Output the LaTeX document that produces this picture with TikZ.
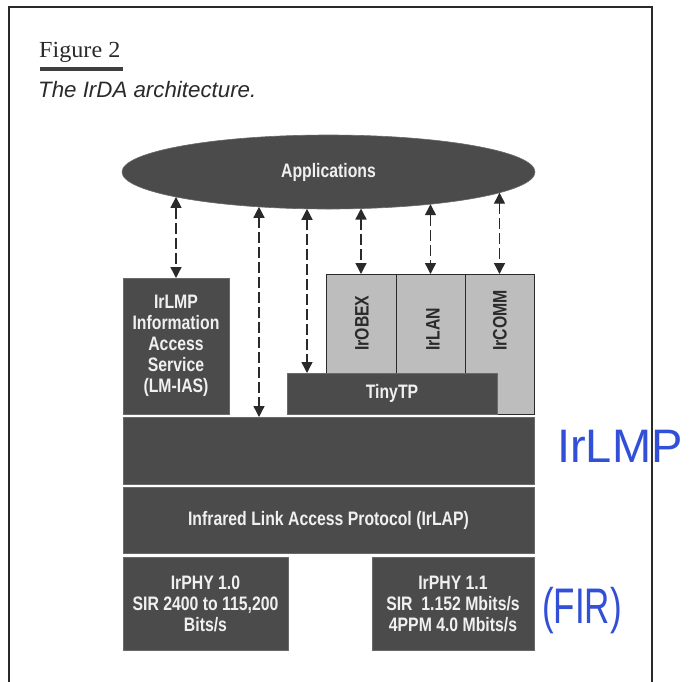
\documentclass[tikz,border=0pt]{standalone}
\usepackage{fontspec}
\setmainfont{Liberation Serif}
\newfontfamily\boxfont[FakeStretch=0.81]{Liberation Sans}
\newfontfamily\capfont{Liberation Sans}
\newfontfamily\figfont[FakeStretch=1.05]{Liberation Serif}
\newfontfamily\handfont{Liberation Sans}
\newfontfamily\handnarrow[FakeStretch=0.7]{Liberation Sans}
\usetikzlibrary{shapes.geometric,arrows.meta}
\definecolor{darkbox}{HTML}{4B4B4B}
\definecolor{darkedge}{HTML}{6A6A6A}
\definecolor{lightbox}{HTML}{BDBDBD}
\definecolor{boxtext}{HTML}{F0F0F0}
\definecolor{ink}{HTML}{2A2A2A}
\definecolor{handblue}{RGB}{50,80,215}
\tikzset{
  layer/.style={draw=darkedge, line width=0.6pt, fill=darkbox, text=boxtext,
    inner sep=0pt, outer sep=0pt, anchor=north west, align=center,
    font=\boxfont\bfseries\fontsize{19.5}{21}\selectfont},
  lightlayer/.style={draw=ink, line width=0.9pt, fill=lightbox,
    inner sep=0pt, outer sep=0pt, anchor=north west},
  vlabel/.style={rotate=90, anchor=west, inner sep=0pt, text=ink,
    font=\boxfont\bfseries\fontsize{19.5}{21}\selectfont},
  arr/.style={draw=ink, line width=1.4pt, dash pattern=on 11pt off 4pt,
    {Triangle[length=11pt,width=11pt]}-{Triangle[length=11pt,width=11pt]}},
  frameline/.style={draw=ink, line width=1.5pt},
  hand/.style={text=handblue, inner sep=0pt}
}
\begin{document}
\begin{tikzpicture}[x=1pt,y=-1pt]
\useasboundingbox (0,0) rectangle (699,681);
\fill[white] (0,0) rectangle (699,681);
% frame
\draw[frameline] (9,695) -- (9,7) -- (652,7) -- (652,695);
% title
\node[anchor=base west, inner sep=0pt, font=\figfont\fontsize{23}{26}\selectfont, text=ink] (fig) at (39,57) {Figure 2};
\draw[draw=ink!90, line width=4.5pt] (40,69) -- (123,69);
\node[anchor=base west, inner sep=0pt, font=\capfont\itshape\fontsize{22.3}{25}\selectfont, text=ink] (cap) at (38,97) {The IrDA architecture.};
% applications ellipse
\node[ellipse, draw=darkedge, line width=0.6pt, fill=darkbox, text=boxtext,
  minimum width=413pt, minimum height=74pt, inner sep=0pt,
  font=\boxfont\bfseries\fontsize{19.5}{21}\selectfont] (app) at (328.5,172) {Applications};
% light boxes
\node[lightlayer, minimum width=70pt, minimum height=99pt] (obex) at (326,274) {};
\node[lightlayer, minimum width=69pt, minimum height=99pt] (lan) at (396,274) {};
\node[lightlayer, minimum width=69pt, minimum height=140pt] (comm) at (465,274) {};
\node[vlabel] (obext) at (362,351) {IrOBEX};
\node[vlabel] (lant) at (433,351) {IrLAN};
\node[vlabel] (commt) at (500,351) {IrCOMM};
% dark layers
\node[layer, minimum width=106pt, minimum height=136pt] (ias) at (123,278)
  {IrLMP\\Information\\Access\\Service\\(LM-IAS)};
\node[layer, minimum width=210pt, minimum height=41pt] (tinytp) at (287,373) {TinyTP};
\node[layer, minimum width=411pt, minimum height=67pt] (irlmp) at (123,417) {};
\node[layer, minimum width=411pt, minimum height=66pt] (irlap) at (123,487) {Infrared Link Access Protocol (IrLAP)};
\node[layer, minimum width=165pt, minimum height=93pt] (phya) at (123,557)
  {IrPHY 1.0\\SIR 2400 to 115,200\\Bits/s};
\node[layer, minimum width=162pt, minimum height=93pt] (phyb) at (372,557)
  {IrPHY 1.1\\SIR\ \ 1.152 Mbits/s\\4PPM 4.0 Mbits/s};
% points on the ellipse border
\coordinate (e1) at (176,196.9);
\coordinate (e2) at (259,206.8);
\coordinate (e3) at (307,208.8);
\coordinate (e4) at (361,208.5);
\coordinate (e5) at (430.5,204.2);
\coordinate (e6) at (499.5,192.7);
% connectors
\draw[arr] (e1) -- (e1 |- ias.north);
\draw[arr] (e2) -- (e2 |- irlmp.north);
\draw[arr] (e3) -- (e3 |- tinytp.north);
\draw[arr] (e4) -- (obex.north);
\draw[arr] (e5) -- (lan.north);
\draw[arr] (e6) -- (comm.north);
% handwritten notes
\node[hand, anchor=base west, font=\handfont\fontsize{47}{50}\selectfont] (hlmp) at (557,462) {IrLMP};
\node[hand, font=\handnarrow\fontsize{50}{52}\selectfont] (hfir) at (582,611) {(FIR)};
\end{tikzpicture}
\end{document}
